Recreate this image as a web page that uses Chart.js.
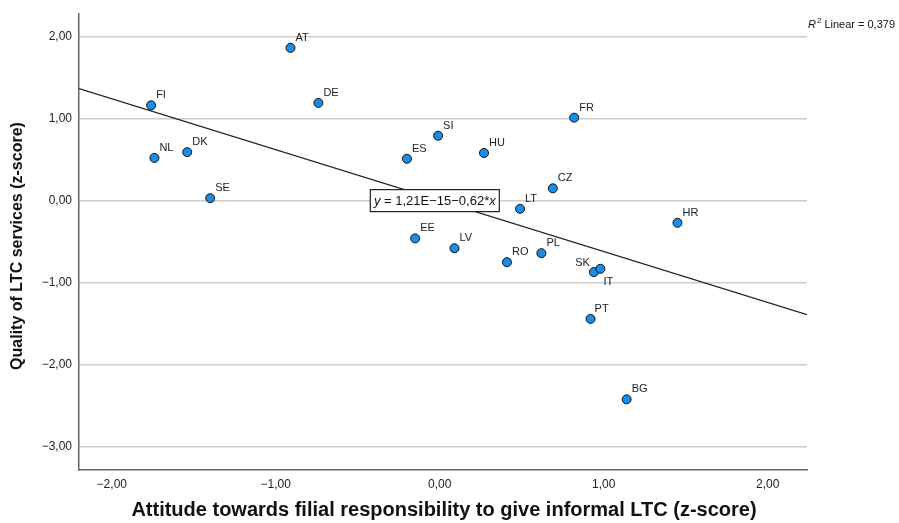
<!DOCTYPE html>
<html>
<head>
<meta charset="utf-8">
<script src="https://cdn.jsdelivr.net/npm/chart.js@4.4.1/dist/chart.umd.min.js"></script>
<style>
  html, body { margin: 0; padding: 0; background: #fff; }
  #wrap { width: 899px; height: 523px; }
</style>
</head>
<body>
<div id="wrap"><canvas id="scatter" width="899" height="523"></canvas></div>
<script>
// country codes and their z-scores
const countries = ['AT', 'FI', 'NL', 'DK', 'SE', 'DE', 'FR', 'SI', 'ES', 'HU', 'CZ', 'LT', 'EE', 'LV', 'RO', 'PL', 'SK', 'IT', 'PT', 'BG', 'HR'];
const attitude = [-0.91, -1.76, -1.74, -1.54, -1.40, -0.74, 0.82, -0.01, -0.20, 0.27, 0.69, 0.49, -0.15, 0.09, 0.41, 0.62, 0.94, 0.98, 0.92, 1.14, 1.45];
const quality = [1.86, 1.16, 0.52, 0.59, 0.03, 1.19, 1.01, 0.79, 0.51, 0.58, 0.15, -0.10, -0.46, -0.58, -0.75, -0.64, -0.87, -0.83, -1.44, -2.42, -0.27];

const xTicks = [-2, -1, 0, 1, 2];
const yTicks = [-3, -2, -1, 0, 1, 2];

// fit line
const intercept = 1.21e-15;
const slope = -0.62;
const rSquared = 0.379;

const X_MIN = -2.2, X_MAX = 2.24;
const Y_MIN = -3.28, Y_MAX = 2.27;

// label offsets that differ from the default (dx, dy, align)
const labelOffsets = {
  SK: [-4, -6, 'right'],
  IT: [3, 16, 'left'],
  PT: [4, -7, 'left']
};

const FONT = "'Liberation Sans', Arial, sans-serif";
const fmt = v => (v < 0 ? '\u2212' : '') + Math.abs(v).toFixed(2).replace('.', ',');

const points = countries.map((c, i) => ({ x: attitude[i], y: quality[i] }));
const fitLine = [X_MIN, X_MAX].map(x => ({ x: x, y: intercept + slope * x }));

const annotations = {
  id: 'annotations',
  afterDatasetsDraw(chart) {
    const ctx = chart.ctx;
    const xs = chart.scales.x, ys = chart.scales.y;
    const area = chart.chartArea;

    // point labels
    ctx.save();
    ctx.font = '11px ' + FONT;
    ctx.fillStyle = '#222';
    ctx.textBaseline = 'alphabetic';
    countries.forEach((c, i) => {
      const px = xs.getPixelForValue(attitude[i]);
      const py = ys.getPixelForValue(quality[i]);
      const off = labelOffsets[c] || [5, -7, 'left'];
      ctx.textAlign = off[2];
      ctx.fillText(c, px + off[0], py + off[1]);
    });
    ctx.restore();

    // equation box
    ctx.save();
    const cx = xs.getPixelForValue(-0.03);
    const cy = ys.getPixelForValue(0);
    const w = 129, h = 22;
    ctx.fillStyle = '#fff';
    ctx.fillRect(cx - w / 2, cy - h / 2, w, h);
    ctx.strokeStyle = '#222';
    ctx.lineWidth = 1.2;
    ctx.strokeRect(cx - w / 2, cy - h / 2, w, h);
    const parts = [
      ['italic 13px ' + FONT, 'y'],
      ['13px ' + FONT, ' = ' + '1,21E\u221215\u2212' + Math.abs(slope).toFixed(2).replace('.', ',') + '*'],
      ['italic 13px ' + FONT, 'x']
    ];
    let total = 0;
    parts.forEach(p => { ctx.font = p[0]; total += ctx.measureText(p[1]).width; });
    let tx = cx - total / 2;
    ctx.fillStyle = '#111';
    ctx.textBaseline = 'middle';
    ctx.textAlign = 'left';
    parts.forEach(p => { ctx.font = p[0]; ctx.fillText(p[1], tx, cy + 1); tx += ctx.measureText(p[1]).width; });
    ctx.restore();

    // R squared text
    ctx.save();
    ctx.fillStyle = '#111';
    ctx.textBaseline = 'alphabetic';
    ctx.textAlign = 'left';
    let rx = area.right + 1;
    const ry = 28;
    ctx.font = 'italic 11px ' + FONT;
    ctx.fillText('R', rx, ry);
    rx += ctx.measureText('R').width + 1;
    ctx.font = '8px ' + FONT;
    ctx.fillText('2', rx, ry - 5);
    rx += ctx.measureText('2').width + 3;
    ctx.font = '11px ' + FONT;
    ctx.fillText('Linear = ' + rSquared.toFixed(3).replace('.', ','), rx, ry);
    ctx.restore();

    // axis titles
    ctx.save();
    ctx.fillStyle = '#111';
    ctx.font = 'bold 20px ' + FONT;
    ctx.textAlign = 'center';
    ctx.textBaseline = 'middle';
    ctx.fillText('Attitude towards filial responsibility to give informal LTC (z-score)', 444, 510);
    ctx.translate(18, 246);
    ctx.rotate(-Math.PI / 2);
    ctx.font = 'bold 16px ' + FONT;
    ctx.fillText('Quality of LTC services (z-score)', 0, 0);
    ctx.restore();
  }
};

new Chart(document.getElementById('scatter'), {
  type: 'scatter',
  data: {
    datasets: [
      {
        type: 'line',
        data: fitLine,
        borderColor: '#222',
        borderWidth: 1.4,
        pointRadius: 0,
        fill: false,
        order: 2
      },
      {
        data: points,
        backgroundColor: '#1a8de8',
        borderColor: '#111',
        borderWidth: 1,
        pointRadius: 4.5,
        order: 1
      }
    ]
  },
  options: {
    responsive: false,
    animation: false,
    layout: { padding: { left: 0, right: 92, top: 11, bottom: 0 } },
    plugins: {
      legend: { display: false },
      tooltip: { enabled: false }
    },
    scales: {
      x: {
        type: 'linear',
        min: X_MIN,
        max: X_MAX,
        afterBuildTicks: s => { s.ticks = xTicks.map(v => ({ value: v })); },
        afterFit: s => { s.height = 53; },
        grid: { display: false, drawTicks: false },
        border: { display: true, color: '#666', width: 1.5 },
        ticks: {
          padding: 7,
          color: '#222',
          font: { family: FONT, size: 12 },
          maxRotation: 0,
          callback: v => fmt(v)
        }
      },
      y: {
        type: 'linear',
        min: Y_MIN,
        max: Y_MAX,
        afterBuildTicks: s => { s.ticks = yTicks.map(v => ({ value: v })); },
        afterFit: s => { s.width = 79; },
        grid: { color: '#cccccc', lineWidth: 1.5, drawTicks: false },
        border: { display: true, color: '#666', width: 1.5 },
        ticks: {
          padding: 7,
          color: '#222',
          font: { family: FONT, size: 12 },
          callback: v => fmt(v)
        }
      }
    }
  },
  plugins: [annotations]
});
</script>
</body>
</html>
